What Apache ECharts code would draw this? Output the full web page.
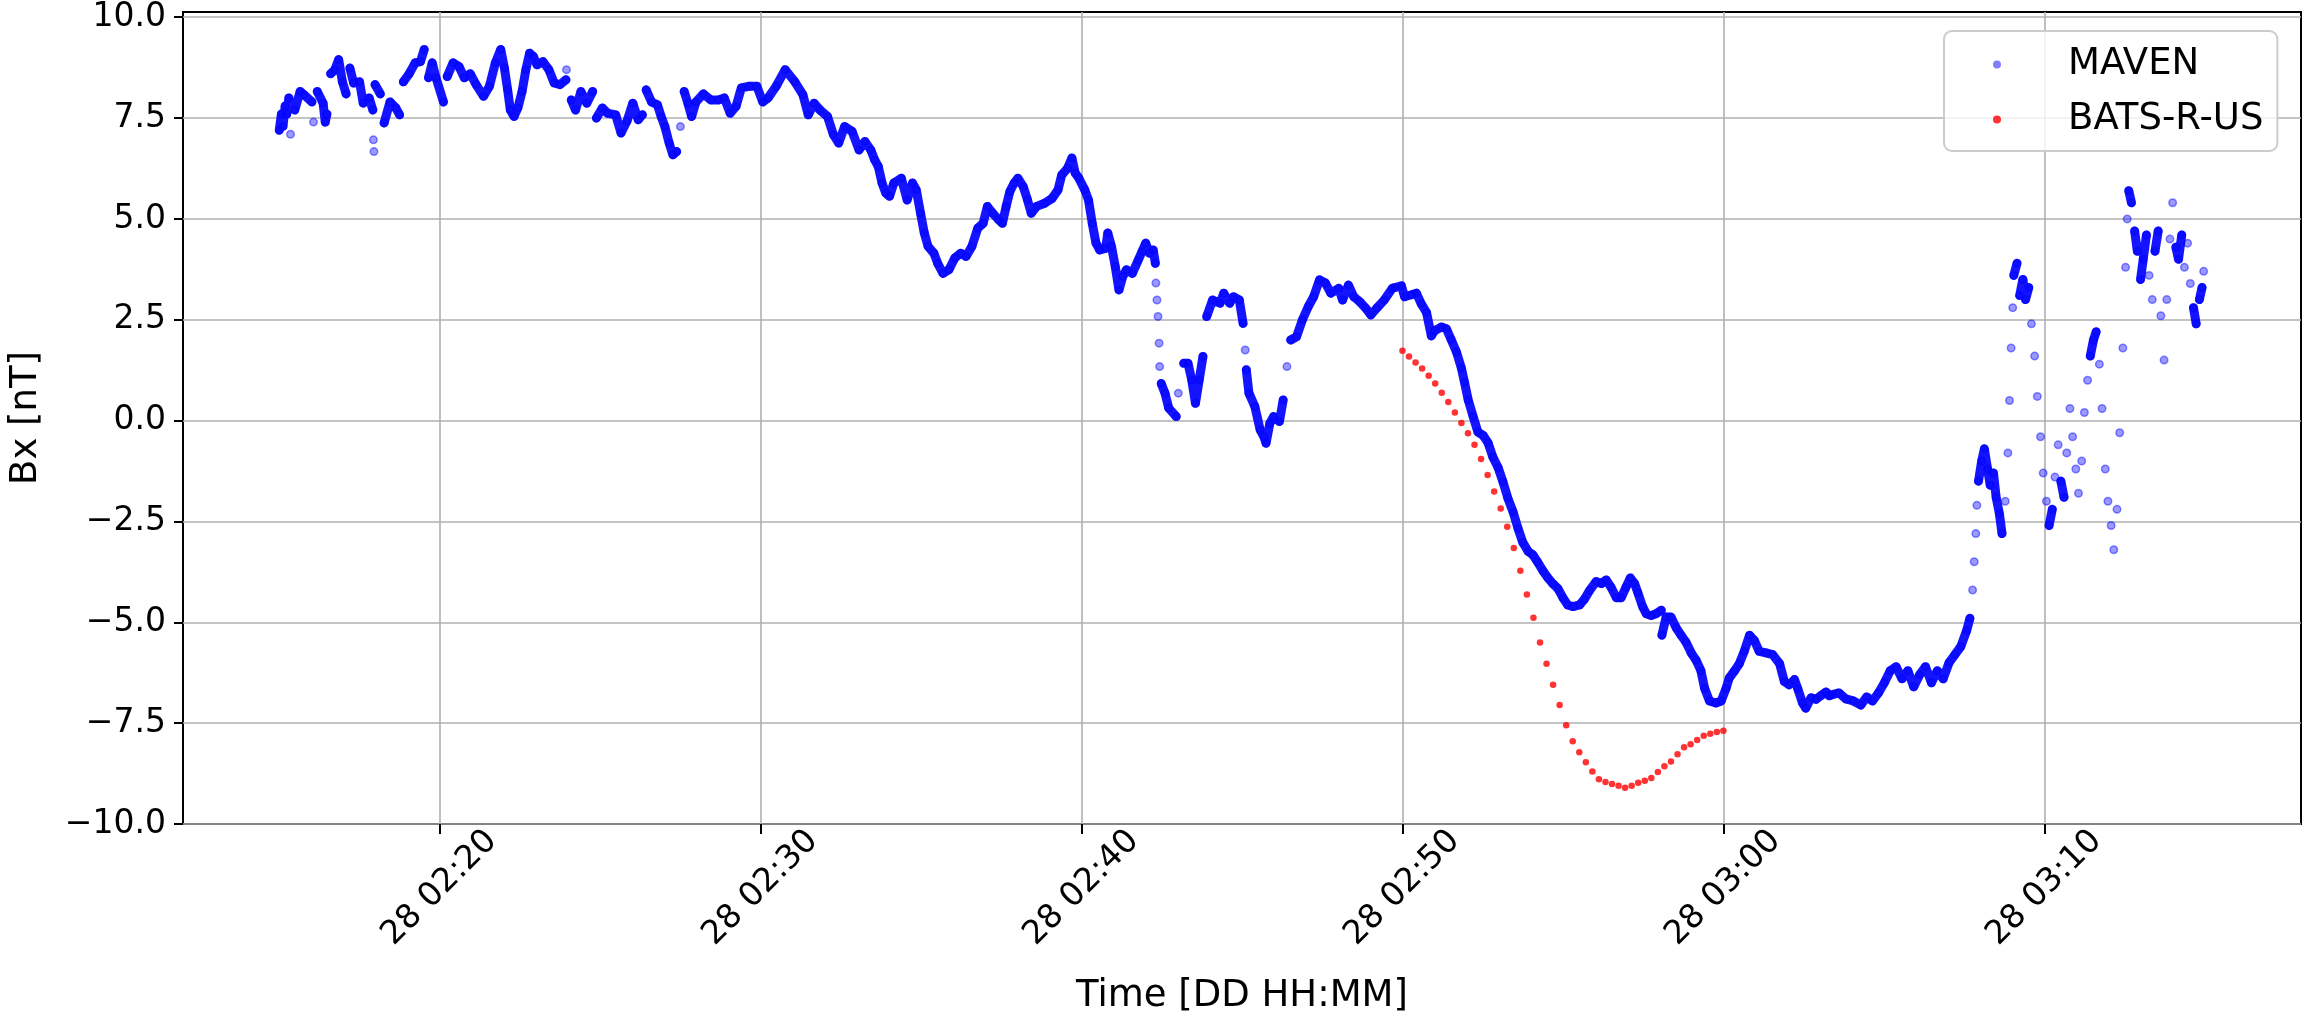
<!DOCTYPE html>
<html>
<head>
<meta charset="utf-8">
<script src="https://cdn.jsdelivr.net/npm/echarts@6/dist/echarts.min.js"></script>
<style>
  html, body { margin: 0; padding: 0; background: #ffffff; }
  #chart { width: 2310px; height: 1019px; }
</style>
</head>
<body>
<div id="chart"></div>
<script>
// MAVEN magnetometer Bx: [seconds after 02:15:00, Bx (nT)]
const mavenObs = [
  [0,7.2],[4,7.6],[7,7.3],[11,7.8],[14,7.6],[18,8.0],[21,7.1],[29,7.7],[39,8.16],[46,8.08],
  [61,7.9],[64,7.4],[71,8.16],[82,7.87],[86,7.4],[89,7.6],[96,8.6],[104,8.7],[111,8.95],[118,8.4],
  [125,8.1],[132,8.74],[139,8.37],[150,8.4],[157,7.87],[168,8.0],[175,7.7],[176,6.96],[177,6.67],[179,8.33],
  [189,8.1],[196,7.38],[207,7.9],[218,7.75],[225,7.58],[232,8.4],[243,8.6],[254,8.87],[264,8.9],[271,9.2],
  [279,8.5],[286,8.87],[293,8.5],[307,7.9],[314,8.53],[325,8.87],[336,8.78],[346,8.5],[357,8.6],[368,8.33],
  [382,8.04],[393,8.29],[404,8.87],[414,9.2],[421,8.74],[427,8.2],[432,7.7],[439,7.54],[446,7.75],[454,8.16],
  [461,8.7],[468,9.11],[475,9.03],[482,8.82],[493,8.9],[504,8.7],[514,8.37],[525,8.33],[536,8.45],[537,8.7],
  [546,7.95],[554,7.7],[564,8.16],[575,7.87],[586,8.16],[593,7.5],[604,7.75],[614,7.62],[629,7.58],[639,7.13],
  [650,7.42],[661,7.87],[671,7.46],[679,7.58],[686,8.2],[696,7.9],[707,7.83],[714,7.54],[721,7.29],[729,6.88],
  [736,6.59],[743,6.67],[750,7.29],[757,8.16],[764,7.87],[771,7.54],[779,7.9],[793,8.1],[807,7.95],[821,7.95],
  [832,8.0],[843,7.62],[854,7.79],[864,8.25],[879,8.29],[893,8.29],[904,7.9],[914,8.0],[929,8.29],[946,8.7],
  [964,8.4],[979,8.08],[989,7.58],[1000,7.87],[1011,7.7],[1025,7.54],[1036,7.09],[1046,6.88],[1057,7.29],[1071,7.17],
  [1084,6.71],[1095,6.92],[1106,6.71],[1113,6.47],[1120,6.3],[1127,5.89],[1134,5.64],[1141,5.56],[1149,5.89],[1163,6.01],
  [1174,5.47],[1184,5.89],[1191,5.72],[1199,5.14],[1206,4.65],[1213,4.32],[1224,4.15],[1231,3.9],[1241,3.65],[1252,3.74],
  [1263,4.03],[1274,4.15],[1284,4.07],[1295,4.32],[1306,4.77],[1316,4.89],[1324,5.31],[1334,5.14],[1345,4.98],[1352,4.89],
  [1359,5.31],[1366,5.68],[1374,5.89],[1381,6.01],[1391,5.8],[1399,5.47],[1406,5.14],[1416,5.31],[1431,5.39],[1445,5.51],
  [1456,5.72],[1463,6.09],[1474,6.26],[1482,6.51],[1488,6.14],[1495,6.01],[1506,5.72],[1513,5.47],[1520,4.89],[1527,4.4],
  [1534,4.23],[1545,4.27],[1549,4.65],[1556,4.32],[1563,3.82],[1570,3.24],[1577,3.57],[1584,3.74],[1595,3.65],[1606,3.98],
  [1613,4.19],[1620,4.4],[1627,4.15],[1634,4.23],[1638,3.9],[1639,3.41],[1641,2.99],[1643,2.58],[1645,1.92],[1646,1.34],
  [1649,0.92],[1656,0.68],[1663,0.31],[1677,0.1],[1681,0.68],[1691,1.42],[1699,1.42],[1706,1.01],[1713,0.43],[1720,1.01],
  [1727,1.59],[1734,2.58],[1745,2.99],[1759,2.91],[1766,3.16],[1777,2.91],[1784,3.07],[1795,2.99],[1802,2.41],[1806,1.75],
  [1808,1.26],[1813,0.68],[1824,0.35],[1834,-0.23],[1841,-0.4],[1845,-0.56],[1852,-0.07],[1859,0.1],[1870,-0.02],[1877,0.51],
  [1884,1.34],[1891,2.0],[1902,2.08],[1913,2.5],[1924,2.83],[1934,3.07],[1945,3.49],[1956,3.41],[1966,3.16],[1981,3.28],
  [1988,2.99],[1999,3.36],[2009,3.07],[2020,2.95],[2031,2.79],[2041,2.62],[2052,2.79],[2066,2.99],[2081,3.28],[2086,3.3],
  [2098,3.34],[2104,3.07],[2117,3.12],[2126,3.16],[2135,2.9],[2145,2.68],[2154,2.1],[2160,2.23],[2173,2.32],[2182,2.28],
  [2191,2.01],[2201,1.7],[2210,1.31],[2216,0.95],[2223,0.51],[2232,0.11],[2241,-0.28],[2251,-0.37],[2260,-0.55],[2269,-0.9],
  [2279,-1.17],[2288,-1.52],[2297,-1.92],[2307,-2.27],[2316,-2.67],[2325,-3.02],[2335,-3.24],[2344,-3.33],[2353,-3.51],[2363,-3.73],
  [2372,-3.9],[2381,-4.04],[2391,-4.17],[2400,-4.39],[2409,-4.57],[2419,-4.61],[2431,-4.57],[2440,-4.43],[2450,-4.21],[2462,-3.99],
  [2472,-4.04],[2481,-3.95],[2490,-4.13],[2500,-4.39],[2509,-4.39],[2518,-4.13],[2526,-3.9],[2534,-4.04],[2540,-4.26],[2549,-4.61],
  [2556,-4.79],[2565,-4.83],[2574,-4.79],[2584,-4.7],[2585,-5.32],[2593,-4.87],[2602,-4.87],[2612,-5.14],[2621,-5.32],[2630,-5.49],
  [2640,-5.76],[2649,-5.94],[2658,-6.2],[2665,-6.64],[2674,-6.95],[2686,-7.0],[2696,-6.95],[2705,-6.64],[2711,-6.38],[2721,-6.2],
  [2730,-6.02],[2739,-5.72],[2749,-5.32],[2758,-5.45],[2767,-5.72],[2780,-5.76],[2792,-5.8],[2805,-6.02],[2814,-6.47],[2823,-6.55],
  [2833,-6.42],[2839,-6.64],[2848,-7.0],[2854,-7.13],[2864,-6.87],[2873,-6.91],[2882,-6.82],[2892,-6.73],[2898,-6.82],[2902,-6.8],
  [2916,-6.75],[2929,-6.9],[2943,-6.95],[2957,-7.05],[2968,-6.85],[2979,-6.95],[2990,-6.75],[3001,-6.5],[3012,-6.2],[3023,-6.1],
  [3034,-6.4],[3045,-6.2],[3056,-6.6],[3067,-6.3],[3078,-6.1],[3089,-6.5],[3100,-6.2],[3111,-6.4],[3122,-6.0],[3133,-5.8],
  [3144,-5.6],[3155,-5.2],[3161,-4.9],[3166,-4.2],[3169,-3.5],[3172,-2.8],[3174,-2.1],[3177,-1.5],[3183,-1.0],[3188,-0.7],
  [3194,-1.2],[3199,-1.6],[3205,-1.3],[3210,-1.9],[3216,-2.3],[3221,-2.8],[3227,-2.0],[3232,-0.8],[3235,0.5],[3238,1.8],
  [3241,2.8],[3243,3.6],[3249,3.9],[3254,3.1],[3260,3.5],[3265,3.0],[3271,3.3],[3276,2.4],[3282,1.6],[3287,0.6],
  [3293,-0.4],[3298,-1.3],[3304,-2.0],[3309,-2.6],[3315,-2.2],[3320,-1.4],[3326,-0.6],[3331,-1.5],[3337,-1.9],[3342,-0.8],
  [3348,0.3],[3353,-0.4],[3359,-1.2],[3364,-1.8],[3370,-1.0],[3375,0.2],[3381,1.0],[3386,1.6],[3392,2.0],[3397,2.2],
  [3403,1.4],[3408,0.3],[3414,-1.2],[3419,-2.0],[3425,-2.6],[3430,-3.2],[3436,-2.2],[3441,-0.3],[3447,1.8],[3452,3.8],
  [3455,5.0],[3458,5.7],[3463,5.4],[3469,4.7],[3474,4.2],[3480,3.5],[3485,4.0],[3491,4.6],[3496,3.6],[3502,3.0],
  [3507,4.2],[3513,4.7],[3518,2.6],[3524,1.5],[3529,3.0],[3535,4.5],[3540,5.4],[3546,4.3],[3551,4.0],[3557,4.6],
  [3562,3.8],[3568,4.4],[3573,3.4],[3579,2.8],[3584,2.4],[3590,3.0],[3595,3.3],[3598,3.7]
];

// BATS-R-US model Bx (nT), evenly spaced from 02:50:00 to 03:00:00
const batsStartSec = 2100;
const batsEndSec = 2700;
const batsBx = [
  1.73, 1.59, 1.44, 1.29, 1.11, 0.92, 0.69, 0.46, 0.20, -0.06,
  -0.31, -0.60, -0.95, -1.35, -1.76, -2.18, -2.63, -3.16, -3.72, -4.31,
  -4.89, -5.50, -6.03, -6.55, -7.05, -7.55, -7.95, -8.22, -8.47, -8.70,
  -8.89, -8.96, -9.01, -9.05, -9.10, -9.05, -8.98, -8.93, -8.86, -8.71,
  -8.57, -8.45, -8.27, -8.10, -8.02, -7.92, -7.81, -7.76, -7.72, -7.69
];

// Axis ticks: x in minutes after 02:00 on day 28, y in nT
const dayOfMonth = '28';
const xTickMinutes = [20, 30, 40, 50, 60, 70];
const yTicks = [-10, -7.5, -5, -2.5, 0, 2.5, 5, 7.5, 10];

const FONT = 'DejaVu Sans';
const toMinutes = s => 15 + s / 60;   // seconds after 02:15 -> minutes after 02:00

const mavenData = mavenObs.map(p => [toMinutes(p[0]), p[1]]);

// Slowly varying stretches of the 1 Hz record overlap into a solid band; where
// the field jumps or changes faster than these limits the samples stand apart as dots.
const MAX_RATE_NT_PER_S = 0.13;
const MAX_STEP_NT = 0.6;
const mavenBand = [];
mavenObs.forEach((p, i) => {
  mavenBand.push(mavenData[i]);
  const next = mavenObs[i + 1];
  if (!next) return;
  const step = Math.abs(next[1] - p[1]);
  const rate = step / Math.max(1, next[0] - p[0]);
  if (rate > MAX_RATE_NT_PER_S || step > MAX_STEP_NT) {
    mavenBand.push([(mavenData[i][0] + mavenData[i + 1][0]) / 2, '-']);
  }
});

const batsStep = (batsEndSec - batsStartSec) / (batsBx.length - 1);
const batsData = batsBx.map((v, i) => [toMinutes(batsStartSec + i * batsStep), v]);

const pad2 = n => String(n).padStart(2, '0');
const timeLabel = m => {
  const h = 2 + Math.floor(m / 60);
  return dayOfMonth + ' ' + pad2(h) + ':' + pad2(Math.round(m % 60));
};
const numLabel = v => v.toFixed(1).replace('-', '\u2212');

const chart = echarts.init(document.getElementById('chart'), null, { renderer: 'canvas' });
chart.setOption({
  backgroundColor: '#ffffff',
  animation: false,
  textStyle: { fontFamily: FONT },
  grid: {
    left: 183, right: 9, top: 12, bottom: 195,
    containLabel: false, outerBoundsMode: 'none',
    show: true, borderColor: '#000000', borderWidth: 2, backgroundColor: 'transparent'
  },
  legend: {
    left: 1944, top: 31, orient: 'vertical',
    padding: [15, 14, 13, 49],
    itemGap: 18, itemWidth: 8, itemHeight: 8,
    backgroundColor: 'rgba(255,255,255,0.8)',
    borderColor: '#cccccc', borderWidth: 2, borderRadius: 8,
    formatter: name => '{t|' + name + '}',
    textStyle: {
      fontFamily: FONT, fontSize: 37, color: '#000000',
      rich: { t: { fontFamily: FONT, fontSize: 37, color: '#000000', padding: [0, 0, 0, 62] } }
    },
    data: [
      { name: 'MAVEN', icon: 'circle' },
      { name: 'BATS-R-US', icon: 'circle' }
    ]
  },
  xAxis: {
    type: 'value', min: 12, max: 78, minInterval: 10, maxInterval: 10,
    name: 'Time [DD HH:MM]', nameLocation: 'middle', nameGap: 154,
    nameTextStyle: { fontFamily: FONT, fontSize: 37, color: '#000000' },
    axisLine: { show: false, onZero: false },
    axisTick: { show: true, length: 10, inside: false, customValues: xTickMinutes,
                lineStyle: { color: '#000000', width: 2 } },
    axisLabel: {
      customValues: xTickMinutes,
      rotate: 45, align: 'center', verticalAlign: 'middle', margin: 64,
      fontFamily: FONT, fontSize: 33, color: '#000000',
      formatter: v => timeLabel(v)
    },
    splitLine: { show: true, lineStyle: { color: '#b0b0b0', width: 1.6 } }
  },
  yAxis: {
    type: 'value', min: -10, max: 10.13, interval: 2.5,
    name: 'Bx [nT]', nameLocation: 'middle', nameGap: 138, nameRotate: 90,
    nameTextStyle: { fontFamily: FONT, fontSize: 37, color: '#000000' },
    axisLine: { show: false, onZero: false },
    axisTick: { show: true, length: 9, inside: false, customValues: yTicks,
                lineStyle: { color: '#000000', width: 2 } },
    axisLabel: {
      customValues: yTicks,
      margin: 17, fontFamily: FONT, fontSize: 33, color: '#000000',
      formatter: v => numLabel(v)
    },
    splitLine: { show: true, lineStyle: { color: '#b0b0b0', width: 1.6 } }
  },
  series: [
    {
      name: 'MAVEN', type: 'line', data: mavenBand,
      showSymbol: false, symbol: 'none', connectNulls: false,
      lineStyle: { color: 'rgba(0,0,255,0.92)', width: 9, join: 'round', cap: 'round' },
      itemStyle: { color: 'rgba(0,0,255,0.5)' },
      emphasis: { disabled: true }, silent: true, z: 2,
      legendHoverLink: false
    },
    {
      name: 'MAVEN', type: 'scatter', data: mavenData,
      symbol: 'circle', symbolSize: 7.5,
      itemStyle: { color: 'rgba(0,0,255,0.5)', borderColor: 'rgba(0,0,255,0.55)', borderWidth: 1.5 },
      emphasis: { disabled: true }, z: 3
    },
    {
      name: 'BATS-R-US', type: 'scatter', data: batsData,
      symbol: 'circle', symbolSize: 6.5,
      itemStyle: { color: '#ff0000' },
      emphasis: { disabled: true }, z: 4
    }
  ]
});
</script>
</body>
</html>
